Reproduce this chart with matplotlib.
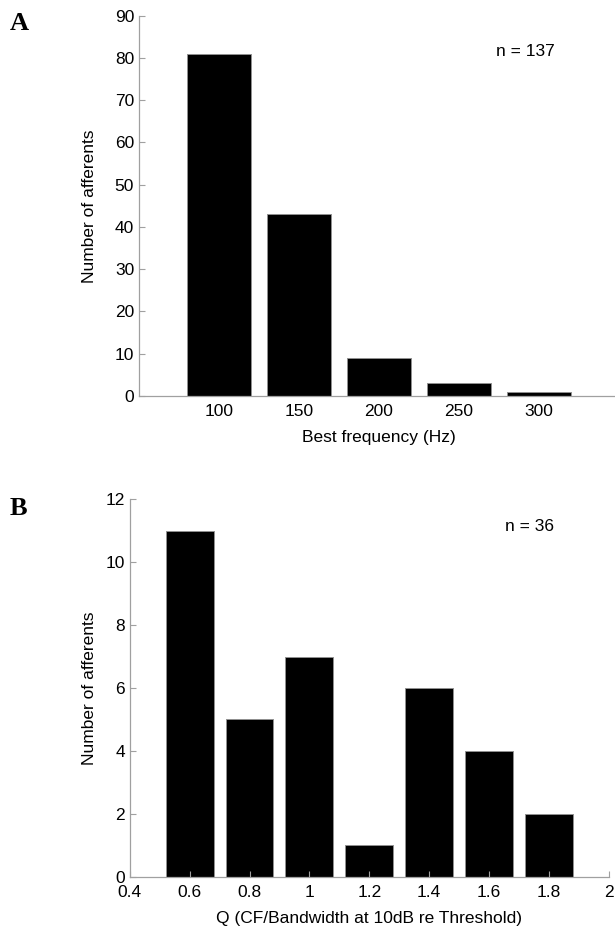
import matplotlib
matplotlib.use("Agg")
import matplotlib.pyplot as plt

# panel A: best frequency histogram
bf_bins = [100, 150, 200, 250, 300]
bf_counts = [81, 43, 9, 3, 1]

# panel B: Q10 histogram
q_bins = [0.6, 0.8, 1.0, 1.2, 1.4, 1.6, 1.8]
q_counts = [11, 5, 7, 1, 6, 4, 2]
q_ticks = [0.4, 0.6, 0.8, 1.0, 1.2, 1.4, 1.6, 1.8, 2.0]
q_ticklabels = ["0.4", "0.6", "0.8", "1", "1.2", "1.4", "1.6", "1.8", "2"]

plt.rcParams["font.family"] = ["Liberation Sans", "DejaVu Sans"]
plt.rcParams["font.size"] = 12.5

fig = plt.figure(figsize=(6.15, 9.27), dpi=100)

def style_axes(ax):
    for side in ("top", "right"):
        ax.spines[side].set_visible(False)
    for side in ("left", "bottom"):
        ax.spines[side].set_color("#a0a0a0")
        ax.spines[side].set_linewidth(0.9)
    ax.tick_params(direction="in", length=4, color="#a0a0a0", labelcolor="black", width=0.8)

# --- A ---
axA = fig.add_axes([0.226, 0.573, 0.78, 0.410])
axA.bar(bf_bins, bf_counts, width=40, color="black", edgecolor="#909090", linewidth=0.7)
axA.set_xlim(50, 350)
axA.set_ylim(0, 90)
axA.set_yticks(range(0, 91, 10))
axA.set_xticks(bf_bins)
style_axes(axA)
axA.tick_params(axis="x", length=0, pad=6)
axA.set_xlabel("Best frequency (Hz)", labelpad=8)
axA.set_ylabel("Number of afferents", labelpad=13)
axA.text(0.805, 0.905, "n = 137", transform=axA.transAxes, ha="center", va="center")
fig.text(0.016, 0.975, "A", family=["Liberation Serif", "DejaVu Serif"], fontweight="bold", fontsize=19, va="center")

# --- B ---
axB = fig.add_axes([0.211, 0.0543, 0.779, 0.407])
axB.bar(q_bins, q_counts, width=0.16, color="black", edgecolor="#909090", linewidth=0.7)
axB.set_xlim(0.4, 2.0)
axB.set_ylim(0, 12)
axB.set_yticks(range(0, 13, 2))
axB.set_xticks(q_ticks)
axB.set_xticklabels(q_ticklabels)
style_axes(axB)
axB.tick_params(axis="x", pad=6)
axB.set_xlabel("Q (CF/Bandwidth at 10dB re Threshold)", labelpad=8)
axB.set_ylabel("Number of afferents", labelpad=6)
axB.text(0.835, 0.928, "n = 36", transform=axB.transAxes, ha="center", va="center")
fig.text(0.016, 0.451, "B", family=["Liberation Serif", "DejaVu Serif"], fontweight="bold", fontsize=19, va="center")

fig.savefig("out.png", dpi=100)
